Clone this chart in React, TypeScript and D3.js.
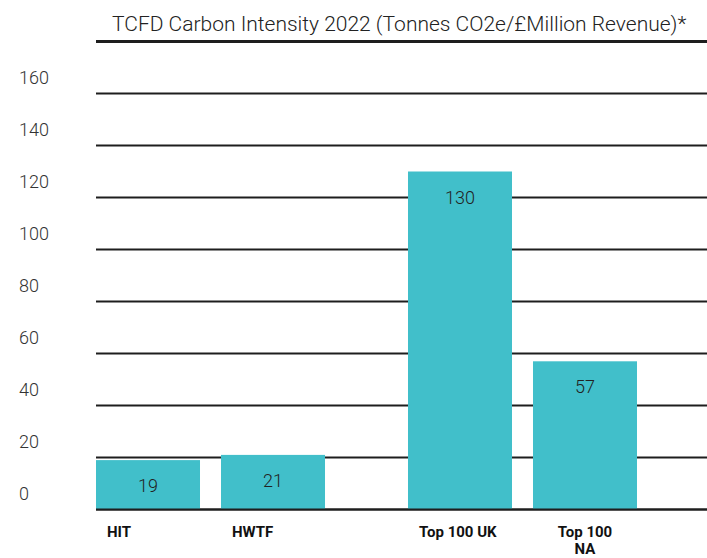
import React from "react";
import * as d3 from "d3";

const title = "TCFD Carbon Intensity 2022 (Tonnes CO2e/£Million Revenue)*";
const groups = ["funds", "indices"];
const categories = ["HIT", "HWTF", "Top 100 UK", "Top 100 NA"];
const categoryGroup = ["funds", "funds", "indices", "indices"];
const categoryLines = [["HIT"], ["HWTF"], ["Top 100 UK"], ["Top 100", "NA"]];
const values = [19, 21, 130, 57];
const yTicks = [0, 20, 40, 60, 80, 100, 120, 140, 160];
const gridValues = [0, 20, 40, 60, 80, 100, 120, 140, 160, 180];

const W = 707;
const H = 558;
const FONT = "Roboto, 'Noto Sans', Arial, sans-serif";
const BAR = "#41BFCA";

export default function App() {
  const y = d3.scaleLinear().domain([0, 180]).range([509.5, 41.5]);

  const outer = d3
    .scaleBand<string>()
    .domain(groups)
    .range([96, 637])
    .paddingInner(0.266)
    .paddingOuter(0)
    .align(0);

  const inner = d3
    .scaleBand<number>()
    .domain([0, 1])
    .range([0, outer.bandwidth()])
    .paddingInner(0.168)
    .paddingOuter(0);

  const bars = categories.map((c, i) => {
    const g = categoryGroup[i];
    const idx = categoryGroup.slice(0, i).filter((x) => x === g).length;
    const x0 = (outer(g) ?? 0) + (inner(idx) ?? 0);
    return { c, i, x0, w: inner.bandwidth(), v: values[i] };
  });

  return (
    <svg
      width={W}
      height={H}
      style={{ position: "absolute", left: 0, top: 0, background: "#fff" }}
      fontFamily={FONT}
    >
      <text x={112} y={31} fontSize={21} fill="#222" fontWeight={300}>
        {title}
      </text>

      {gridValues.map((v) => (
        <line
          key={"g" + v}
          x1={96}
          x2={W}
          y1={y(v)}
          y2={y(v)}
          stroke="#1e1e1e"
          strokeWidth={v === 180 ? 2.8 : 2.2}
        />
      ))}

      {yTicks.map((v) => (
        <text key={"t" + v} x={19} y={y(v) - 10} fontSize={18} fill="#333" fontWeight={300}>
          {v}
        </text>
      ))}

      {bars.map((b) => (
        <rect
          key={"b" + b.c}
          x={b.x0}
          y={y(b.v)}
          width={b.w}
          height={y(0) - y(b.v)}
          fill={BAR}
        />
      ))}

      <line x1={96} x2={W} y1={y(0)} y2={y(0)} stroke="#1e1e1e" strokeWidth={2.2} />

      {bars.map((b) => (
        <text
          key={"v" + b.c}
          x={b.x0 + b.w / 2}
          y={y(b.v) + 32}
          fontSize={18}
          fill="#222"
          fontWeight={300}
          textAnchor="middle"
        >
          {b.v}
        </text>
      ))}

      {bars.map((b) => {
        const lines = categoryLines[b.i];
        const multi = lines.length > 1;
        const lx = multi ? b.x0 + b.w / 2 : b.x0 + 11;
        return (
          <text
            key={"c" + b.c}
            x={lx}
            y={537}
            fontSize={15}
            fontWeight={700}
            fill="#111"
            textAnchor={multi ? "middle" : "start"}
          >
            {lines.map((l, k) => (
              <tspan key={k} x={lx} dy={k === 0 ? 0 : 17}>
                {l}
              </tspan>
            ))}
          </text>
        );
      })}
    </svg>
  );
}
